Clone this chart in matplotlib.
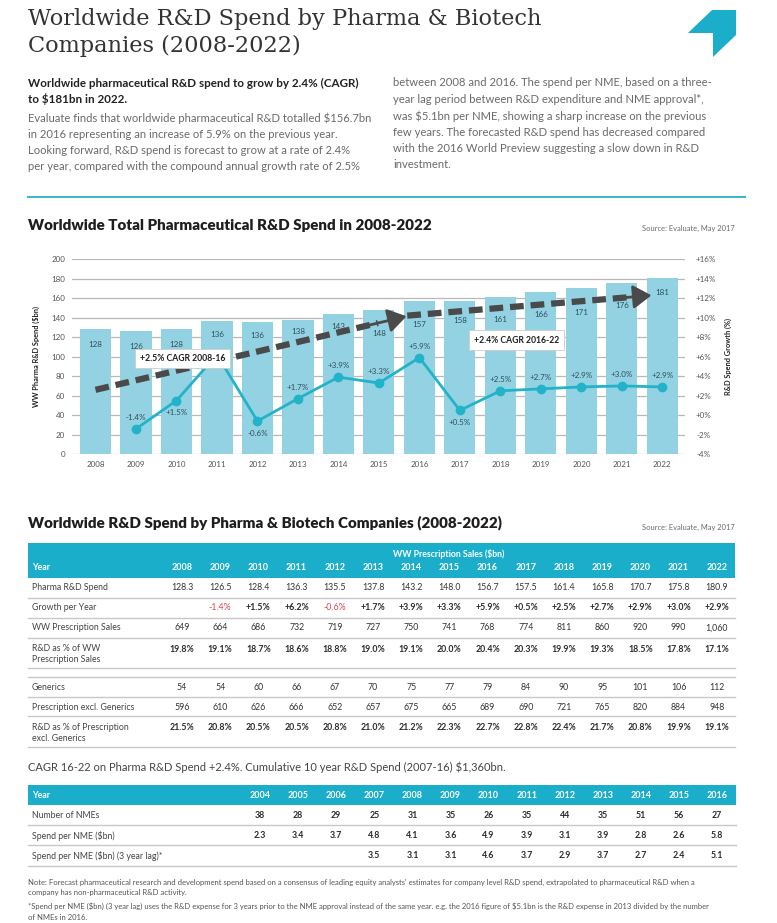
import matplotlib
matplotlib.use('Agg')
import matplotlib.pyplot as plt
from matplotlib.patches import Rectangle, Polygon

plt.rcParams['font.family'] = ['Lato', 'DejaVu Sans']
plt.rcParams['text.parse_math'] = False

# ---- chart data ----
years = [2008, 2009, 2010, 2011, 2012, 2013, 2014, 2015, 2016, 2017, 2018, 2019, 2020, 2021, 2022]
rd_spend = [128.3, 126.5, 128.4, 136.3, 135.5, 137.8, 143.2, 148.0, 156.7, 157.5, 161.4, 165.8, 170.7, 175.8, 180.9]
growth = [None, -1.4, 1.5, 6.2, -0.6, 1.7, 3.9, 3.3, 5.9, 0.5, 2.5, 2.7, 2.9, 3.0, 2.9]
growth_label_below = [False, False, True, True, True, False, False, False, False, True, False, False, False, False, False]
label_drop = [16, 16, 16, 14, 14, 12, 12, 24, 24, 20, 23, 23, 25, 23, 15]

# CAGR trend arrows (year index, $bn)
cagr_texts = ['+2.5% CAGR 2008-16', '+2.4% CAGR 2016-22']
cagr_start = [(0, 66), (7.7, 142)]
cagr_end = [(7.75, 142), (13.8, 163)]
cagr_box = [(2.15, 98), (10.4, 117)]

# ---- table 1 data ----
rd_pct_sales = [19.8, 19.1, 18.7, 18.6, 18.8, 19.0, 19.1, 20.0, 20.4, 20.3, 19.9, 19.3, 18.5, 17.8, 17.1]
ww_sales = ['649', '664', '686', '732', '719', '727', '750', '741', '768', '774', '811', '860', '920', '990', '1,060']
generics = [54, 54, 60, 66, 67, 70, 75, 77, 79, 84, 90, 95, 101, 106, 112]
rx_ex_generics = [596, 610, 626, 666, 652, 657, 675, 665, 689, 690, 721, 765, 820, 884, 948]
rd_pct_ex = [21.5, 20.8, 20.5, 20.5, 20.8, 21.0, 21.2, 22.3, 22.7, 22.8, 22.4, 21.7, 20.8, 19.9, 19.1]

# ---- table 2 data ----
nme_years = [2004, 2005, 2006, 2007, 2008, 2009, 2010, 2011, 2012, 2013, 2014, 2015, 2016]
nme_count = [38, 28, 29, 25, 31, 35, 26, 35, 44, 35, 51, 56, 27]
spend_per_nme = [2.3, 3.4, 3.7, 4.8, 4.1, 3.6, 4.9, 3.9, 3.1, 3.9, 2.8, 2.6, 5.8]
spend_per_nme_lag = [None, None, None, 3.5, 3.1, 3.1, 4.6, 3.7, 2.9, 3.7, 2.7, 2.4, 5.1]

TEAL = '#1aaecb'
BAR = '#92d2e3'
LINE = '#22b3c9'
DARK = '#2b2b2b'
GREY = '#6a6a6a'
W, H = 777, 923

fig = plt.figure(figsize=(W / 100, H / 100), dpi=100)
fig.patch.set_facecolor('white')

# overlay in pixel coordinates for the page layout
pg = fig.add_axes([0, 0, 1, 1], zorder=0)
pg.set_xlim(0, W)
pg.set_ylim(H, 0)
pg.axis('off')

# header
pg.text(28, 19, 'Worldwide R&D Spend by Pharma & Biotech', fontsize=16.2, family='DejaVu Serif',
        color='#333333', va='center')
pg.text(28, 46, 'Companies (2008-2022)', fontsize=16.2, family='DejaVu Serif', color='#333333', va='center')
pg.add_patch(Polygon([(688, 33), (712, 10), (736, 10), (736, 35), (713, 57), (713, 33)],
                     closed=True, color=TEAL, lw=0))

pg.text(28, 83, 'Worldwide pharmaceutical R&D spend to grow by 2.4% (CAGR)', fontsize=8.4,
        weight='bold', color='#222222', va='center')
pg.text(28, 99, 'to $181bn in 2022.', fontsize=8.4, weight='bold', color='#222222', va='center')
left_lines = ['Evaluate finds that worldwide pharmaceutical R&D totalled $156.7bn',
              'in 2016 representing an increase of 5.9% on the previous year.',
              'Looking forward, R&D spend is forecast to grow at a rate of 2.4%',
              'per year, compared with the compound annual growth rate of 2.5%']
for i, t in enumerate(left_lines):
    pg.text(28, 118 + i * 16.3, t, fontsize=8.1, color=GREY, va='center')
right_lines = ['between 2008 and 2016. The spend per NME, based on a three-',
               'year lag period between R&D expenditure and NME approval*,',
               'was $5.1bn per NME, showing a sharp increase on the previous',
               'few years. The forecasted R&D spend has decreased compared',
               'with the 2016 World Preview suggesting a slow down in R&D',
               'investment.']
for i, t in enumerate(right_lines):
    pg.text(393, 83 + i * 16.4, t, fontsize=8.1, color=GREY, va='center')
pg.plot([28, 745], [197, 197], color='#3db8c8', lw=1.5)

# chart heading
pg.text(28, 226, 'Worldwide Total Pharmaceutical R&D Spend in 2008-2022', fontsize=10.9,
        weight='heavy', color='#1e1e1e', va='center')
pg.text(735, 228, 'Source: Evaluate, May 2017', fontsize=5.4, color=GREY, ha='right', va='center')

# ---- chart ----
ax = fig.add_axes([72 / W, 1 - 454.3 / H, (685 - 72) / W, (454.3 - 259) / H], zorder=2)
ax.patch.set_alpha(0)
x = list(range(len(years)))
ax.set_xlim(-0.58, 14.56)
ax.set_ylim(0, 200)
ax.set_yticks(range(0, 201, 20))
ax.grid(axis='y', color='#b8b8b8', lw=0.9)
ax.set_axisbelow(True)
for s in ax.spines.values():
    s.set_visible(False)
ax.bar(x, rd_spend, width=0.77, color=BAR, zorder=2)
for i, v in enumerate(rd_spend):
    ax.text(i, v - label_drop[i], f'{round(v)}', ha='center', va='center', fontsize=5.8,
            color='#2f4f5a', zorder=6)
ax.set_xticks(x)
ax.set_xticklabels([str(y) for y in years])
ax.tick_params(axis='both', length=0, labelsize=5.8, labelcolor='#555555', pad=5)
ax.set_ylabel('WW Pharma R&D Spend ($bn)', fontsize=5.3, weight='bold', color='#222222', labelpad=8)

# growth line on the growth scale (-4% .. 16%)
ax2 = ax.twinx()
ax2.set_zorder(3)
ax2.set_ylim(-4, 16)
ax2.set_yticks(range(-4, 17, 2))
ax2.set_yticklabels([f'{t:+d}%' if t != 0 else '+0%' for t in range(-4, 17, 2)])
ax2.tick_params(axis='y', length=0, labelsize=5.8, labelcolor='#555555', pad=8)
for s in ax2.spines.values():
    s.set_visible(False)
ax2.set_ylabel('R&D Spend Growth (%)', fontsize=5.3, weight='bold', color='#222222', labelpad=6)
gx = [i for i, g in enumerate(growth) if g is not None]
gy = [g for g in growth if g is not None]
ax2.plot(gx, gy, color=LINE, lw=2, marker='o', ms=6, zorder=4)
for i, g in zip(gx, gy):
    off = -1.25 if growth_label_below[i] else 1.15
    ax2.text(i, g + off, f'{g:+.1f}%', ha='center', va='center', fontsize=5.8, color='#2f4f5a', zorder=6)

# dashed CAGR arrows and labels, drawn above the growth line
for (x0, y0), (x1, y1), (bx, by), t in zip(cagr_start, cagr_end, cagr_box, cagr_texts):
    xm, ym = x0 + 0.9 * (x1 - x0), y0 + 0.9 * (y1 - y0)
    ax2.plot([x0, xm], [y0, ym], transform=ax.transData, color='#4a4a4a', lw=4.5,
             ls=(0, (2.2, 1.1)), solid_capstyle='butt', zorder=5)
    ax2.annotate('', xy=(x1, y1), xytext=(xm - 0.05 * (x1 - x0), ym - 0.05 * (y1 - y0)),
                 xycoords=ax.transData, textcoords=ax.transData,
                 arrowprops=dict(arrowstyle='-|>,head_width=0.45,head_length=0.7', color='#4a4a4a',
                                 lw=2, mutation_scale=16), zorder=5)
    ax2.text(bx, by, t, transform=ax.transData, ha='center', va='center', fontsize=6.2, weight='bold',
             color='#1e1e1e', zorder=7, bbox=dict(boxstyle='square,pad=0.6', fc='white', ec='#cccccc', lw=0.6))

# ---- table 1 ----
pg.text(28, 523, 'Worldwide R&D Spend by Pharma & Biotech Companies (2008-2022)', fontsize=10.9,
        weight='heavy', color='#1e1e1e', va='center')
pg.text(735, 527, 'Source: Evaluate, May 2017', fontsize=5.4, color=GREY, ha='right', va='center')
pg.add_patch(Rectangle((28, 543), 707, 35, color=TEAL, lw=0))
pg.text(449, 554, 'WW Prescription Sales ($bn)', fontsize=6.3, weight='bold', color='white',
        ha='center', va='center')
pg.text(32, 568, 'Year', fontsize=6.3, weight='bold', color='white', va='center')
col1 = [182 + 38.2 * i for i in range(len(years))]
for cx, yr in zip(col1, years):
    pg.text(cx, 568, str(yr), fontsize=6.5, weight='bold', color='white', ha='center', va='center')

row_labels = ['Pharma R&D Spend', 'Growth per Year', 'WW Prescription Sales',
              'R&D as % of WW\nPrescription Sales', 'Generics', 'Prescription excl. Generics',
              'R&D as % of Prescription\nexcl. Generics']
row_y = [588, 608, 628, 649, 687, 707, 727]
label_y = [588, 608, 628, 654, 687, 707, 733]
for lab, ly in zip(row_labels, label_y):
    pg.text(32, ly, lab, fontsize=6.3, color='#444444', va='center', linespacing=1.35)

rows = [([f'{v:.1f}' for v in rd_spend], 'normal'),
        (None, 'bold'),
        (ww_sales, 'normal'),
        ([f'{v:.1f}%' for v in rd_pct_sales], 'bold'),
        ([str(v) for v in generics], 'normal'),
        ([str(v) for v in rx_ex_generics], 'normal'),
        ([f'{v:.1f}%' for v in rd_pct_ex], 'bold')]
for (vals, wt), ry in zip(rows, row_y):
    if vals is None:
        for cx, g in zip(col1, growth):
            if g is None:
                continue
            if g < 0:
                pg.text(cx, ry, f'{g:.1f}%', fontsize=6.3, color='#e0444e', ha='center', va='center')
            else:
                pg.text(cx, ry, f'+{g:.1f}%', fontsize=6.3, weight='bold', color=DARK, ha='center', va='center')
        continue
    for cx, v in zip(col1, vals):
        pg.text(cx, ry, v, fontsize=6.3, weight=wt, color='#333333' if wt == 'normal' else DARK,
                ha='center', va='center')
for ly in [598, 618, 638, 668, 677, 697, 716, 747]:
    pg.plot([28, 735], [ly, ly], color='#c8c8c8', lw=1)

# ---- table 2 ----
pg.text(28, 767, 'CAGR 16-22 on Pharma R&D Spend +2.4%. Cumulative 10 year R&D Spend (2007-16) $1,360bn.',
        fontsize=8.0, color='#444444', va='center')
pg.add_patch(Rectangle((28, 785), 708, 20, color=TEAL, lw=0))
pg.text(32, 795, 'Year', fontsize=6.3, weight='bold', color='white', va='center')
col2 = [260 + 38.1 * i for i in range(len(nme_years))]
for cx, yr in zip(col2, nme_years):
    pg.text(cx, 795, str(yr), fontsize=6.5, weight='bold', color='white', ha='center', va='center')
t2_labels = ['Number of NMEs', 'Spend per NME ($bn)', 'Spend per NME ($bn) (3 year lag)*']
t2_rows = [[str(v) for v in nme_count], [f'{v:.1f}' for v in spend_per_nme],
           ['' if v is None else f'{v:.1f}' for v in spend_per_nme_lag]]
for lab, vals, ry in zip(t2_labels, t2_rows, [816, 836, 856]):
    pg.text(32, ry, lab, fontsize=6.3, color='#444444', va='center')
    for cx, v in zip(col2, vals):
        pg.text(cx, ry, v, fontsize=6.3, weight='bold', color=DARK, ha='center', va='center')
for ly in [825, 845, 866]:
    pg.plot([28, 736], [ly, ly], color='#c8c8c8', lw=1)

notes = ["Note: Forecast pharmaceutical research and development spend based on a consensus of leading equity analysts' estimates for company level R&D spend, extrapolated to pharmaceutical R&D when a",
         'company has non-pharmaceutical R&D activity.',
         '*Spend per NME ($bn) (3 year lag) uses the R&D expense for 3 years prior to the NME approval instead of the same year. e.g. the 2016 figure of $5.1bn is the R&D expense in 2013 divided by the number',
         'of NMEs in 2016.']
for t, ny in zip(notes, [882, 893, 906, 917]):
    pg.text(28, ny, t, fontsize=5.5, color='#555555', va='center')

fig.savefig('out.png', dpi=100, facecolor='white')
